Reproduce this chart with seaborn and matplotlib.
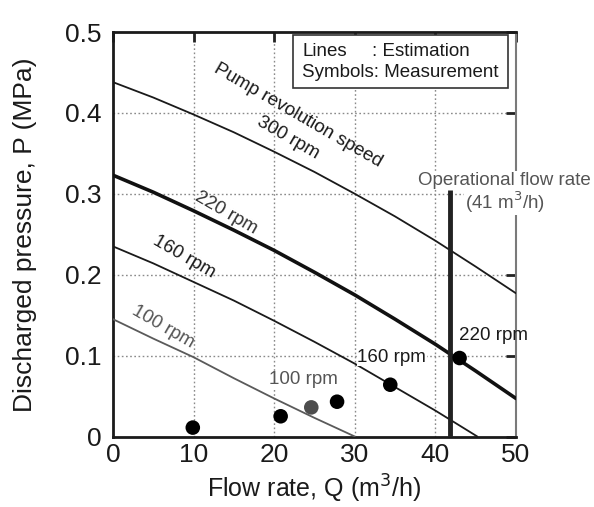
import numpy as np
import pandas as pd
import matplotlib
matplotlib.use("Agg")
import matplotlib.pyplot as plt
from matplotlib.patches import Rectangle
import seaborn as sns

# ---- data ----
q_300 = [0, 5, 10, 15, 20, 25, 30, 35, 40, 45, 50]
p_300 = [0.438, 0.419, 0.398, 0.376, 0.352, 0.327, 0.300, 0.272, 0.242, 0.210, 0.177]
q_220 = [0, 5, 10, 15, 20, 25, 30, 35, 40, 45, 50]
p_220 = [0.323, 0.302, 0.279, 0.255, 0.230, 0.203, 0.175, 0.145, 0.114, 0.081, 0.047]
q_160 = [0, 5, 10, 15, 20, 25, 30, 35, 40, 45.2]
p_160 = [0.235, 0.214, 0.191, 0.168, 0.143, 0.117, 0.090, 0.061, 0.032, 0.0]
q_100 = [0, 5, 10, 15, 20, 25, 30]
p_100 = [0.145, 0.121, 0.098, 0.072, 0.047, 0.023, 0.0]

meas_q = [9.9, 20.8, 24.6, 27.8, 34.4, 43.0]
meas_p = [0.011, 0.025, 0.036, 0.043, 0.064, 0.097]
meas_gray = [False, False, True, False, False, False]

op_q = 41.8
op_p_top = 0.305

x_ticks = [0, 10, 20, 30, 40, 50]
x_tick_labels = ["0", "10", "20", "30", "40", "50"]
y_ticks = [0, 0.1, 0.2, 0.3, 0.4, 0.5]
y_tick_labels = ["0", "0.1", "0.2", "0.3", "0.4", "0.5"]

sns.set_theme(style="white")
plt.rcParams['font.family'] = ['Liberation Sans', 'DejaVu Sans']

fig = plt.figure(figsize=(5.94, 5.07), dpi=100)
ax = fig.add_axes([113/594, 1-436.5/507, 403/594, 404.5/507])

# grid
for xv in x_ticks[1:-1]:
    ax.axvline(xv, color="#8a8a8a", lw=1.0, ls=(0, (1.2, 1.8)), zorder=0)
for yv in y_ticks[1:-1]:
    ax.axhline(yv, color="#8a8a8a", lw=1.0, ls=(0, (1.2, 1.8)), zorder=0)

sns.lineplot(x=q_300, y=p_300, ax=ax, color="#1a1a1a", lw=1.3, zorder=3)
sns.lineplot(x=q_220, y=p_220, ax=ax, color="#111111", lw=2.6, zorder=3)
sns.lineplot(x=q_160, y=p_160, ax=ax, color="#1a1a1a", lw=1.3, zorder=3)
sns.lineplot(x=q_100, y=p_100, ax=ax, color="#5a5a5a", lw=1.3, zorder=3)

# operational flow rate line
ax.plot([op_q, op_q], [0, op_p_top], color="#222222", lw=3.5, zorder=4,
        solid_capstyle="butt")

df = pd.DataFrame({"Q": meas_q, "P": meas_p,
                   "grp": ["gray" if g else "black" for g in meas_gray]})
sns.scatterplot(data=df, x="Q", y="P", hue="grp",
                palette={"black": "#000000", "gray": "#4d4d4d"},
                s=110, edgecolor="none", legend=False, ax=ax, zorder=5)

ax.set_xlim(0, 50)
ax.set_ylim(0, 0.5)
ax.set_xticks(x_ticks)
ax.set_xticklabels(x_tick_labels)
ax.set_yticks(y_ticks)
ax.set_yticklabels(y_tick_labels)
ax.tick_params(direction="in", length=7, width=2, labelsize=19,
               top=True, right=True, colors="#222222")
ax.tick_params(axis="x", pad=5)
ax.tick_params(axis="y", pad=8)
ax.tick_params(axis="both", labelcolor="#1a1a1a")
for s in ["left", "bottom", "top"]:
    ax.spines[s].set_color("#1a1a1a")
    ax.spines[s].set_linewidth(2.0)
ax.spines["right"].set_color("#7a7a7a")
ax.spines["right"].set_linewidth(1.5)

ax.set_xlabel("Flow rate, Q (m$^3$/h)", fontsize=18, color="#1a1a1a", labelpad=4)
ax.set_ylabel("Discharged pressure, P (MPa)", fontsize=19, color="#1a1a1a", labelpad=20)

wb = dict(facecolor="white", edgecolor="none", pad=0.5)
ax.text(22.95, 0.397, "Pump revolution speed", fontsize=13.5, rotation=-30,
        ha="center", va="center", color="#1a1a1a", rotation_mode="anchor", zorder=6)
ax.text(21.7, 0.369, "300 rpm", fontsize=13.5, rotation=-30,
        ha="center", va="center", color="#1a1a1a", rotation_mode="anchor", zorder=6)
ax.text(14.0, 0.276, "220 rpm", fontsize=13.5, rotation=-30,
        ha="center", va="center", color="#333333", rotation_mode="anchor", zorder=6)
ax.text(8.8, 0.222, "160 rpm", fontsize=13.5, rotation=-30,
        ha="center", va="center", color="#1a1a1a", rotation_mode="anchor", zorder=6)
ax.text(6.2, 0.135, "100 rpm", fontsize=13.5, rotation=-30,
        ha="center", va="center", color="#555555", rotation_mode="anchor", zorder=6)

ax.text(23.6, 0.070, "100 rpm", fontsize=13.5, ha="center", va="center",
        color="#555555", zorder=6, bbox=wb)
ax.text(34.6, 0.098, "160 rpm", fontsize=13.5, ha="center", va="center",
        color="#1a1a1a", zorder=6, bbox=wb)
ax.text(47.2, 0.125, "220 rpm", fontsize=13.5, ha="center", va="center",
        color="#1a1a1a", zorder=6, clip_on=False)

ax.text(48.6, 0.317, "Operational flow rate", fontsize=13.5, ha="center",
        va="center", color="#555555", zorder=6, clip_on=False, bbox=wb)
ax.text(48.6, 0.290, "(41 m$^3$/h)", fontsize=13.5, ha="center",
        va="center", color="#555555", zorder=6, clip_on=False, bbox=wb)

# legend-like note box
ax.add_patch(Rectangle((0.447, 0.861), 0.533, 0.132, transform=ax.transAxes,
                       facecolor="white", edgecolor="#333333", lw=1.2, zorder=6))
ax.text(0.469, 0.951, "Lines", transform=ax.transAxes, fontsize=13.5,
        ha="left", va="center", color="#1a1a1a", zorder=7)
ax.text(0.643, 0.951, ": Estimation", transform=ax.transAxes, fontsize=13.5,
        ha="left", va="center", color="#1a1a1a", zorder=7)
ax.text(0.469, 0.899, "Symbols: Measurement", transform=ax.transAxes, fontsize=13.5,
        ha="left", va="center", color="#1a1a1a", zorder=7)

fig.savefig("out.png", dpi=100)
